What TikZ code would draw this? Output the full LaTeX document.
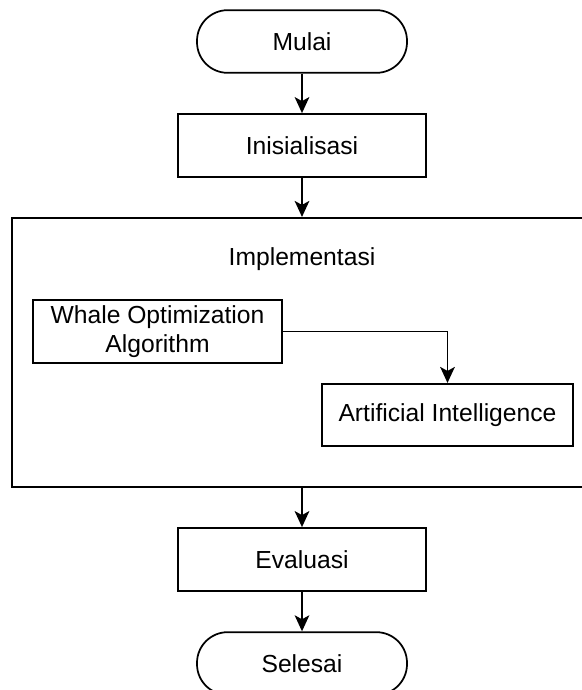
\documentclass[tikz,border=0pt]{standalone}
\usepackage{fontspec}
\setmainfont{Liberation Sans}
\usepackage{tikz}
\usetikzlibrary{positioning,calc,arrows.meta}

\begin{document}
\begin{tikzpicture}[x=0.75pt, y=-0.75pt, thick,
    >={Stealth[length=12pt, width=11pt, inset=3pt]},
    font=\fontsize{18.5}{21.3}\selectfont,
    procbox/.style={draw, line width=1.6pt, inner sep=0pt, align=center,
        minimum width=186pt, minimum height=47pt},
    termbox/.style={draw, line width=1.3pt, inner sep=0pt, rounded corners=23pt,
        minimum width=157.5pt, minimum height=47pt},
    flow/.style={->, line width=1.4pt}]
    \useasboundingbox (0, 0) rectangle (582, 690);
    \clip (0, 0) rectangle (582, 690);

    \node [termbox] (mulai) at (302, 41.5) {Mulai};
    \node [procbox] (init) at (302, 145.5) {Inisialisasi};

    % kotak implementasi
    \node [procbox, minimum width=441pt, minimum height=201.75pt] (impl) at (306, 352.5) {};
    \node (impltxt) at (302, 259) {Implementasi};
    \node [procbox, minimum width=186.75pt] (woa) at (157.5, 331.5) {Whale Optimization\\Algorithm};
    \node [procbox, minimum width=188.25pt, minimum height=46.5pt] (ai) at (447.5, 415) {Artificial Intelligence};

    \node [procbox] (eval) at (302, 559.5) {Evaluasi};
    \node [termbox] (selesai) at (302, 663.5) {Selesai};

    \draw [flow] (mulai) -- (init);
    \draw [flow] (init.south) -- (init.south |- impl.north);
    \draw [flow] (woa.east) -| (ai.north);
    \draw [flow] (eval.north |- impl.south) -- (eval.north);
    \draw [flow] (eval) -- (selesai);
\end{tikzpicture}
\end{document}
